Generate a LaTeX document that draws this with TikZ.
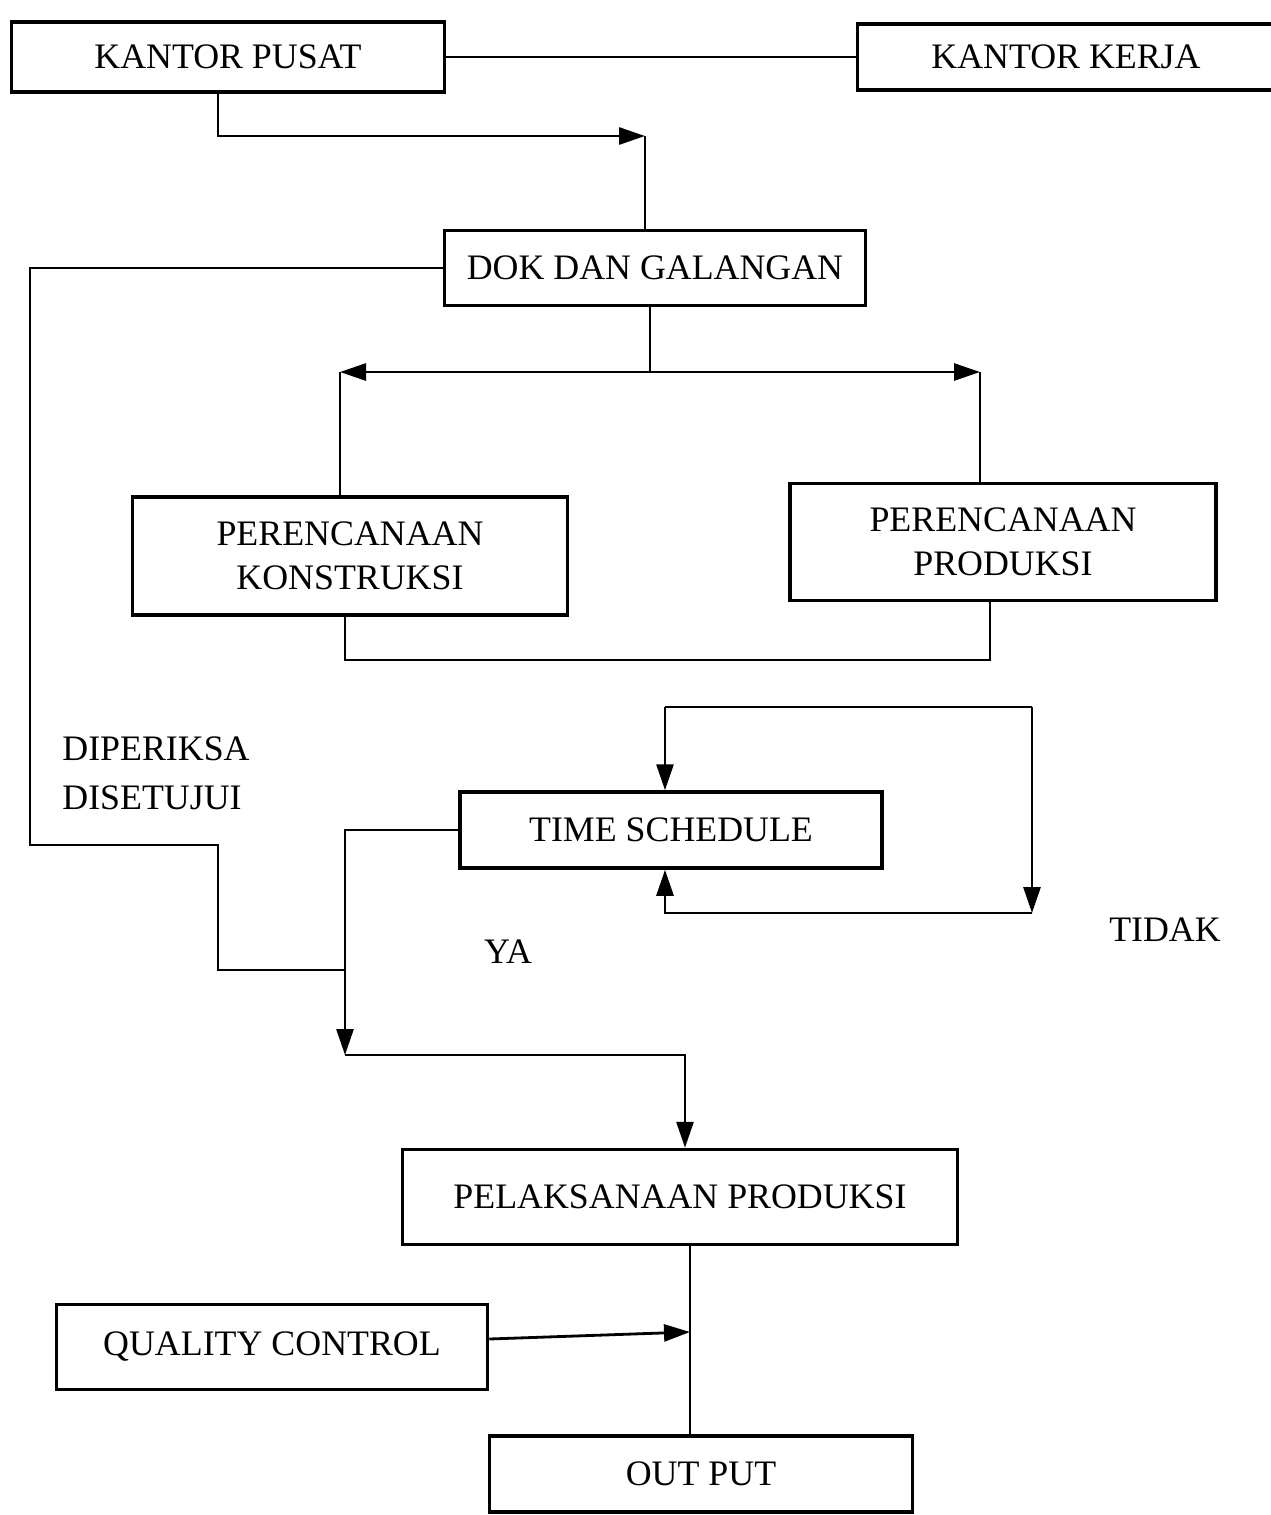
\documentclass[tikz,border=0pt]{standalone}
\usepackage{fontspec}
\setmainfont{Liberation Serif}
\usetikzlibrary{arrows.meta,positioning}

\begin{document}
\begin{tikzpicture}[font=\fontsize{10.2}{12.5}\selectfont,
        box/.style={draw, line width=1pt, inner sep=0pt, align=center},
        line/.style={line width=0.8pt},
        arr/.style={line width=0.8pt, -{Triangle[length=2.6mm,width=1.7mm]}}]
        \useasboundingbox (0,0) rectangle (12.71,-15.15);
        % Define boxes
        \node[box, minimum width=4.33cm, minimum height=0.70cm] (Pusat) at (2.28,-0.57) {KANTOR PUSAT};
        \node[box, minimum width=4.17cm, minimum height=0.66cm] (Kerja) at (10.66,-0.57) {KANTOR KERJA};
        \node[box, minimum width=4.21cm, minimum height=0.75cm] (Dok) at (6.55,-2.68) {DOK DAN GALANGAN};
        \node[box, minimum width=4.35cm, minimum height=1.18cm] (Konstruksi) at (3.50,-5.56) {PERENCANAAN\\KONSTRUKSI};
        \node[box, minimum width=4.26cm, minimum height=1.17cm] (Produksi) at (10.03,-5.42) {PERENCANAAN\\PRODUKSI};
        \node[box, minimum width=4.22cm, minimum height=0.76cm] (Schedule) at (6.71,-8.30) {TIME SCHEDULE};
        \node[box, minimum width=5.55cm, minimum height=0.95cm] (Pelaksanaan) at (6.80,-11.97) {PELAKSANAAN PRODUKSI};
        \node[box, minimum width=4.31cm, minimum height=0.85cm] (Quality) at (2.72,-13.47) {QUALITY CONTROL};
        \node[box, minimum width=4.23cm, minimum height=0.76cm] (Output) at (7.01,-14.74) {OUT PUT};

        % Labels
        \node[align=left, anchor=west, font=\fontsize{10.2}{14}\selectfont] (Periksa) at (0.50,-7.73) {DIPERIKSA\\DISETUJUI};
        \node (Ya) at (5.08,-9.52) {YA};
        \node (Tidak) at (11.65,-9.30) {TIDAK};

        % Top part
        \coordinate (Masuk) at (6.45,-1.36);
        \coordinate (Bagi) at (6.50,-3.72);
        \coordinate (BagiL) at (3.40,-3.72);
        \coordinate (BagiR) at (9.80,-3.72);
        \draw[line] (Pusat.east) -- (Kerja.west);
        \draw[arr] ([xshift=-0.10cm]Pusat.south) |- (Masuk);
        \draw[line] (Masuk) -- (Masuk |- Dok.north);
        \draw[line] (Dok.south -| Bagi) -- (Bagi);
        \draw[arr] (Bagi) -- (BagiL);
        \draw[arr] (Bagi) -- (BagiR);
        \draw[line] (BagiL) -- (BagiL |- Konstruksi.north);
        \draw[line] (BagiR) -- (BagiR |- Produksi.north);
        \draw[line] ([xshift=-0.05cm]Konstruksi.south) |- (9.90,-6.60) -- (9.90,-6.60 |- Produksi.south);

        % Left return line
        \coordinate (Gabung) at (3.45,-9.70);
        \draw[line] (Dok.west) -- (0.30,-2.68) -- (0.30,-8.45) -- (2.18,-8.45) |- (Gabung);

        % Time schedule loop
        \coordinate (LoopL) at (6.65,-7.07);
        \coordinate (LoopR) at (10.32,-7.07);
        \coordinate (LoopB) at (10.32,-9.13);
        \draw[line] (LoopL) -- (LoopR);
        \draw[arr] (LoopL) -- (LoopL |- Schedule.north);
        \draw[arr] (LoopR) -- (LoopB);
        \draw[arr] (LoopB) -| (LoopL |- Schedule.south);

        % Down to production
        \coordinate (Turun) at (3.45,-10.55);
        \coordinate (Hasil) at (6.90,-13.32);
        \draw[arr] (Schedule.west) -| (Turun);
        \draw[arr] (Turun) -| ([xshift=0.05cm]Pelaksanaan.north);
        \draw[line] (Hasil |- Pelaksanaan.south) -- (Hasil |- Output.north);
        \draw[arr] ([yshift=0.08cm]Quality.east) -- (Hasil);
\end{tikzpicture}
\end{document}
